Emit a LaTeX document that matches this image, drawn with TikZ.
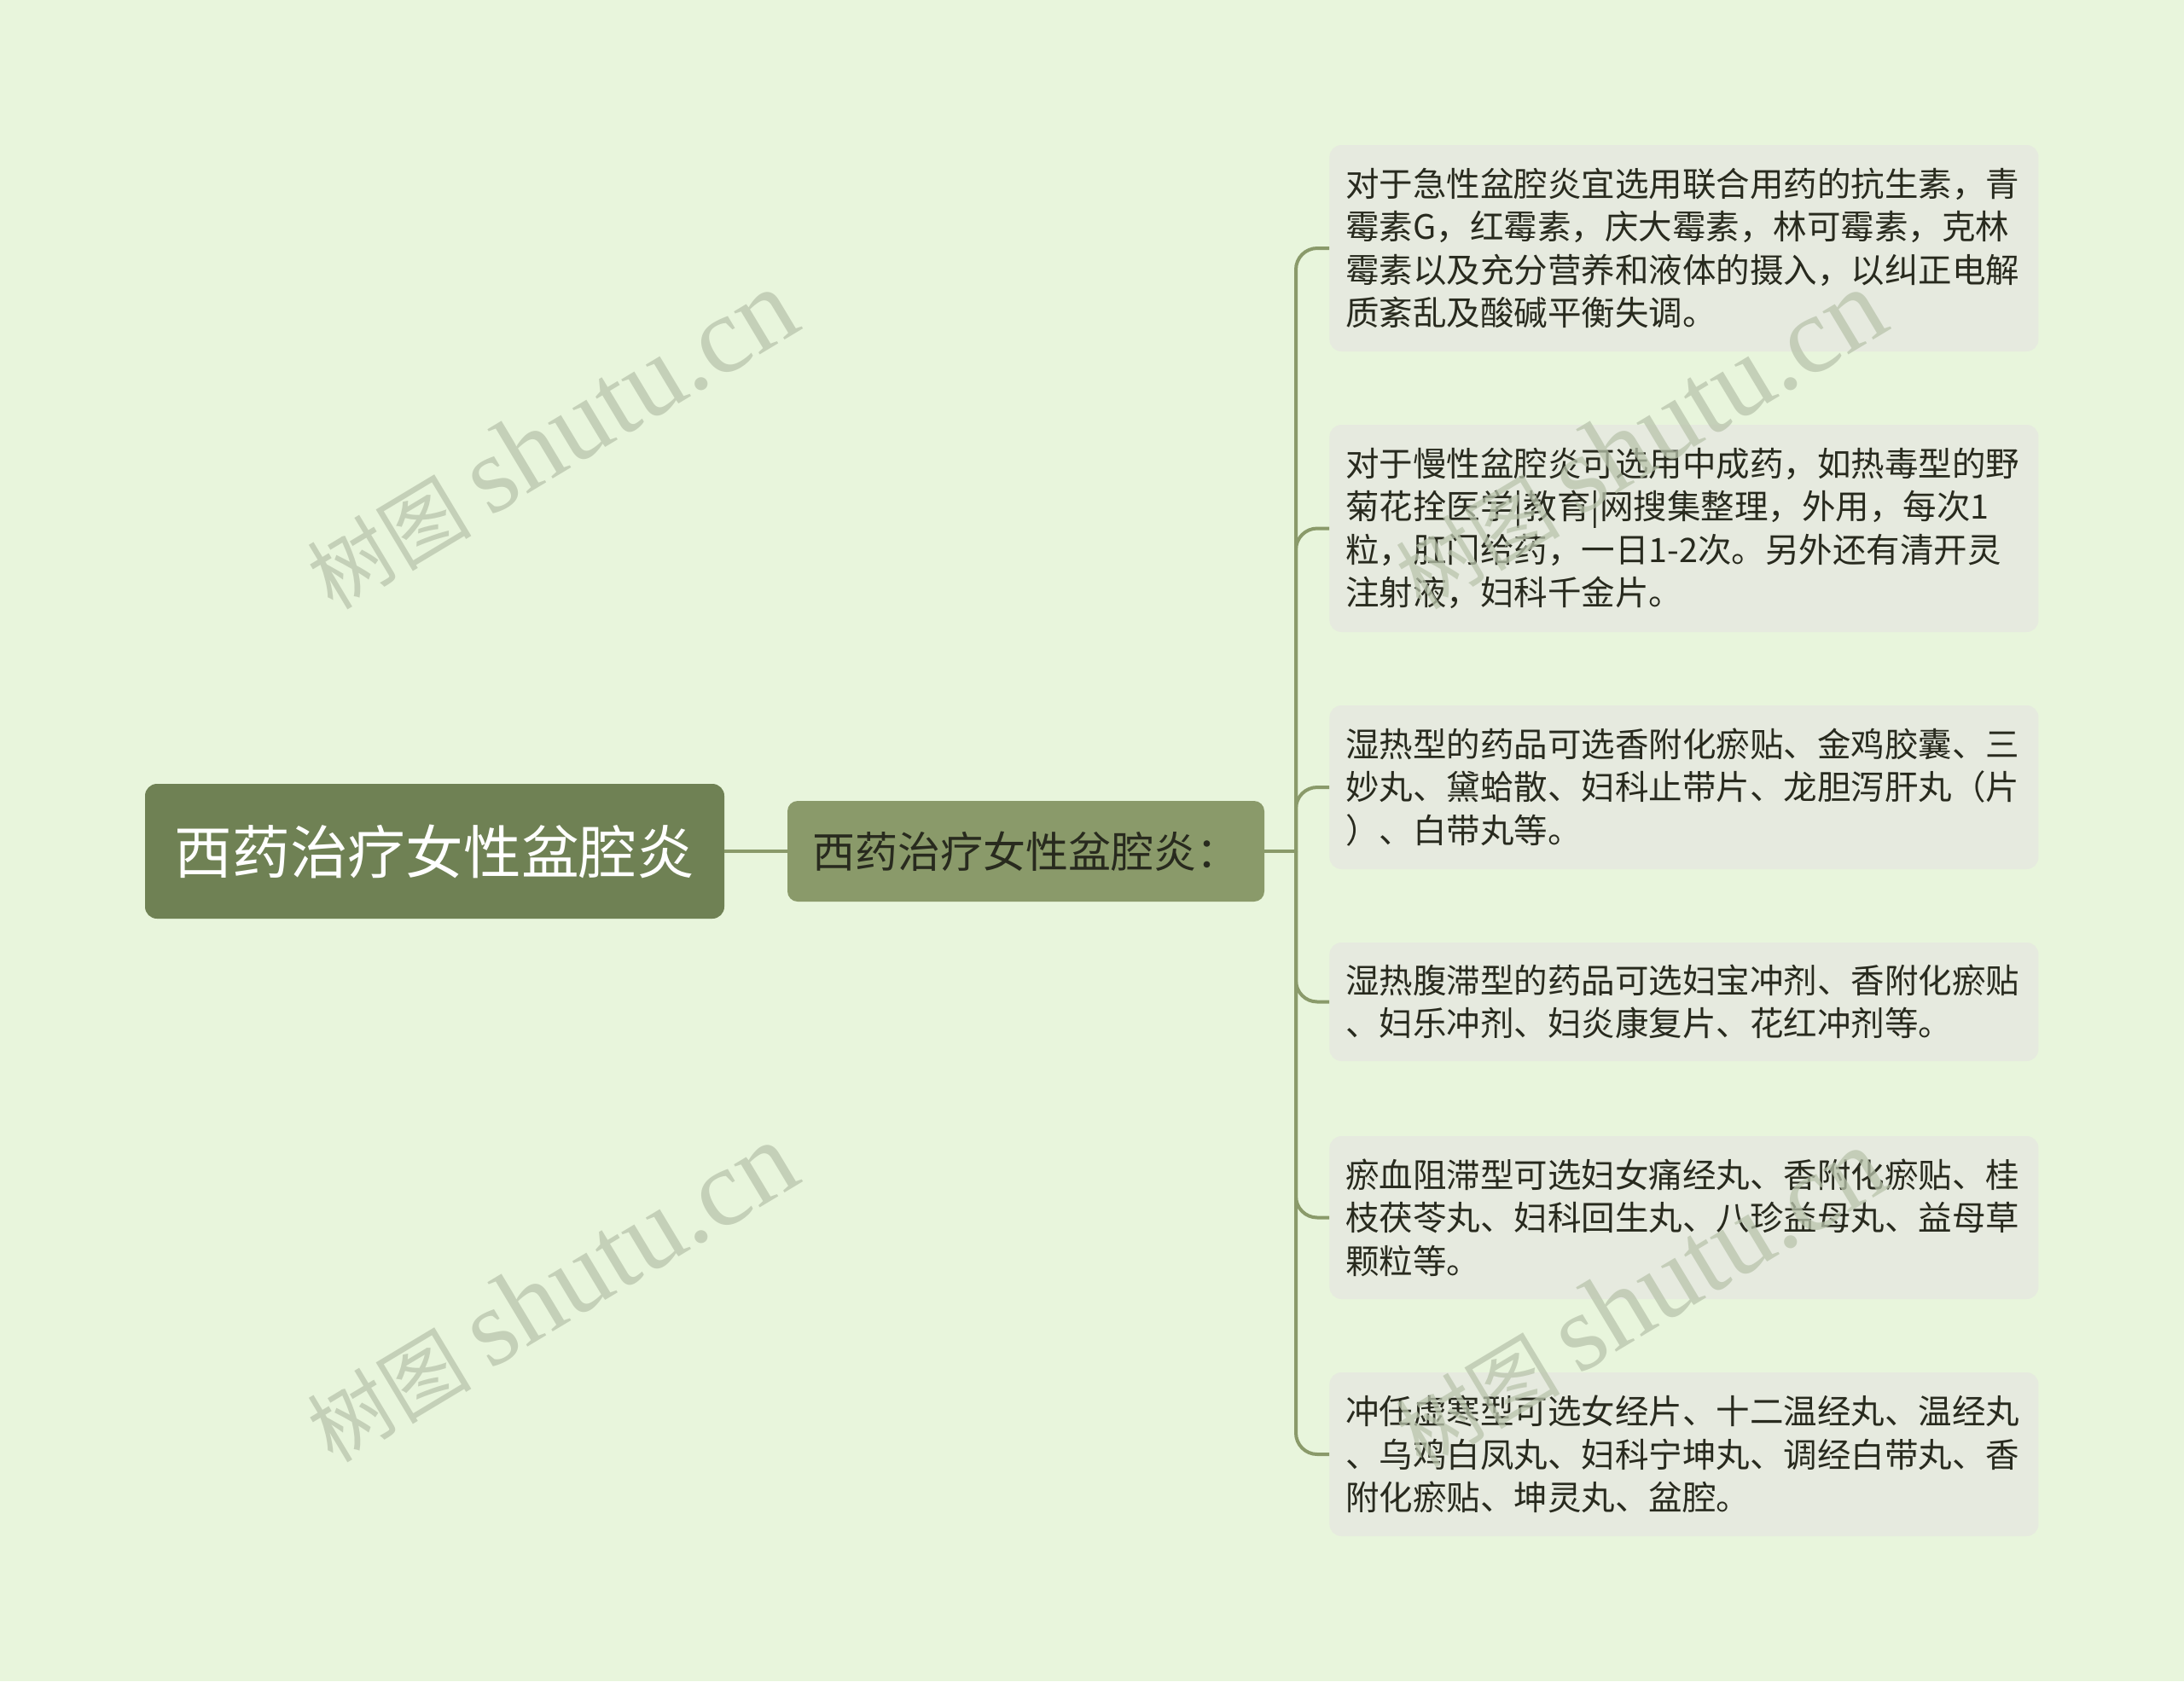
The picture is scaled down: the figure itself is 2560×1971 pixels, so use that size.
\documentclass[tikz,border=0pt]{standalone}
\usepackage{fontspec}
\setmainfont{Noto Sans CJK SC}
\newfontfamily\wmserif{Liberation Serif}
\definecolor{bgc}{RGB}{232,245,220}
\definecolor{rootc}{RGB}{111,129,84}
\definecolor{midc}{RGB}{138,154,106}
\definecolor{leafc}{RGB}{230,234,223}
\definecolor{textc}{RGB}{40,42,30}
\definecolor{linec}{RGB}{138,154,106}
\definecolor{wmc}{RGB}{185,196,172}
\begin{document}
\begin{tikzpicture}[x=0.5pt,y=-0.5pt,
  rootbox/.style={fill=rootc, rounded corners=7pt, minimum width=339.5pt, minimum height=79pt,
    inner sep=0pt, text=white, font=\fontsize{33.85pt}{40pt}\selectfont},
  midbox/.style={fill=midc, rounded corners=6pt, minimum width=279.5pt, minimum height=59pt,
    inner sep=0pt, text=textc, font=\fontsize{25pt}{30pt}\selectfont},
  leafbox/.style={fill=leafc, rounded corners=7pt, text width=396.5pt, inner xsep=9.5pt,
    inner ysep=0pt, align=left, anchor=west, text=textc,
    font=\fontsize{19.75pt}{25.25pt}\selectfont},
  conn/.style={draw=linec, line width=2pt},
  branch/.style={conn, rounded corners=12.5pt},
  wm/.style={text=wmc, opacity=0.75, rotate=31, inner sep=0pt,
    font=\fontsize{48pt}{60pt}\selectfont}
]
\useasboundingbox[fill=bgc] (0,0) rectangle (2560,1971);

\node[rootbox] (root) at (509.5,998) {西药治疗女性盆腔炎};
\node[midbox] (mid) at (1202.5,998) {西药治疗女性盆腔炎：};

\node[leafbox, minimum height=121pt] (l1) at (1558,291) {对于急性盆腔炎宜选用联合用药的抗生素，青\\霉素G，红霉素，庆大霉素，林可霉素，克林\\霉素以及充分营养和液体的摄入，以纠正电解\\质紊乱及酸碱平衡失调。};
\node[leafbox, minimum height=121.5pt] (l2) at (1558,619.5) {对于慢性盆腔炎可选用中成药，如热毒型的野\\菊花拴医学|教育|网搜集整理，外用，每次1\\粒，肛门给药，一日1-2次。另外还有清开灵\\注射液，妇科千金片。};
\node[leafbox, minimum height=96pt] (l3) at (1558,923) {湿热型的药品可选香附化瘀贴、金鸡胶囊、三\\妙丸、黛蛤散、妇科止带片、龙胆泻肝丸（片\\）、白带丸等。};
\node[leafbox, minimum height=69.5pt] (l4) at (1558,1174.5) {湿热腹滞型的药品可选妇宝冲剂、香附化瘀贴\\、妇乐冲剂、妇炎康复片、花红冲剂等。};
\node[leafbox, minimum height=95.5pt] (l5) at (1558,1427.5) {瘀血阻滞型可选妇女痛经丸、香附化瘀贴、桂\\枝茯苓丸、妇科回生丸、八珍益母丸、益母草\\颗粒等。};
\node[leafbox, minimum height=96pt] (l6) at (1558,1705) {冲任虚寒型可选女经片、十二温经丸、温经丸\\、乌鸡白凤丸、妇科宁坤丸、调经白带丸、香\\附化瘀贴、坤灵丸、盆腔。};

\coordinate (jn) at (1519,998);
\draw[conn] (root.east) -- (mid.west);
\draw[conn] (mid.east) -- (jn);
\foreach \n in {l1,l2,l3,l4,l5,l6}
  \draw[branch] (jn) |- (\n.west);

\node[wm] (w1) at (646,516) {树图\hspace{11pt}{\wmserif\fontsize{64pt}{70pt}\selectfont shutu.cn}};
\node[wm] (w2) at (1922,516) {树图\hspace{11pt}{\wmserif\fontsize{64pt}{70pt}\selectfont shutu.cn}};
\node[wm] (w3) at (646,1516) {树图\hspace{11pt}{\wmserif\fontsize{64pt}{70pt}\selectfont shutu.cn}};
\node[wm] (w4) at (1922,1522) {树图\hspace{11pt}{\wmserif\fontsize{64pt}{70pt}\selectfont shutu.cn}};
\end{tikzpicture}
\end{document}
